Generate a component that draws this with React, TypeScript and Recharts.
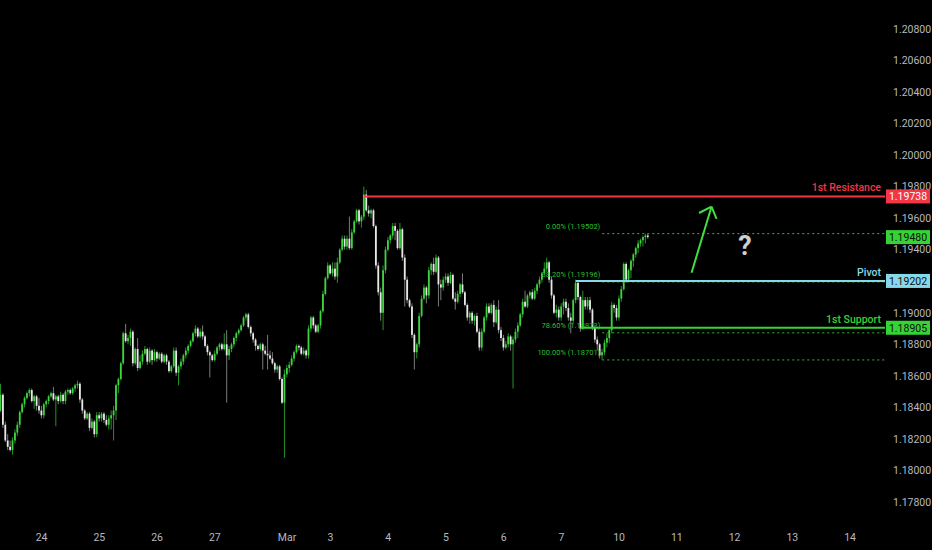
import { Bar, ComposedChart, ReferenceDot, ReferenceLine, XAxis, YAxis } from 'recharts'

type Ohlc = [number, number, number, number] // open, high, low, close

// hourly candles, one list per trading session
const feb21: Ohlc[] = [
  [1.1838, 1.1855, 1.1837, 1.1848], [1.1848, 1.1849, 1.1827, 1.1829], [1.1829, 1.1831, 1.1818, 1.1819],
  [1.1819, 1.1823, 1.1813, 1.1815], [1.1815, 1.1819, 1.1812, 1.1813], [1.1813, 1.1821, 1.181, 1.1819],
  [1.1819, 1.1826, 1.1817, 1.1824], [1.1824, 1.1831, 1.1822, 1.1829], [1.1829, 1.1838, 1.1827, 1.1837],
  [1.1837, 1.1843, 1.1836, 1.1842], [1.1842, 1.1847, 1.184, 1.1846], [1.1846, 1.185, 1.1845, 1.1849],
  [1.1849, 1.1852, 1.1847, 1.1851], [1.1851, 1.1852, 1.1843, 1.1844], [1.1844, 1.1848, 1.1839, 1.1847],
  [1.1847, 1.1848, 1.1838, 1.1841], [1.1841, 1.1846, 1.1836, 1.1838],
]
const feb24: Ohlc[] = [
  [1.1838, 1.1841, 1.1833, 1.1835], [1.1835, 1.1843, 1.1833, 1.1842], [1.1842, 1.1845, 1.184, 1.1844],
  [1.1844, 1.1848, 1.1842, 1.1847], [1.1847, 1.185, 1.1846, 1.1849], [1.1849, 1.1853, 1.1844, 1.1845],
  [1.1845, 1.1848, 1.1828, 1.1847], [1.1847, 1.1848, 1.1842, 1.1844], [1.1844, 1.185, 1.1843, 1.1848],
  [1.1848, 1.1849, 1.1842, 1.1844], [1.1844, 1.1851, 1.1842, 1.185], [1.185, 1.1852, 1.1848, 1.1851],
  [1.1851, 1.1852, 1.1848, 1.1849], [1.1849, 1.1853, 1.1848, 1.1852], [1.1852, 1.1855, 1.185, 1.1854],
  [1.1854, 1.1857, 1.1852, 1.1855], [1.1855, 1.1856, 1.1843, 1.1845], [1.1845, 1.1846, 1.1836, 1.1838],
  [1.1838, 1.1839, 1.1832, 1.1833], [1.1833, 1.1837, 1.1832, 1.1836], [1.1836, 1.1837, 1.1825, 1.1827],
  [1.1827, 1.1833, 1.1826, 1.1831], [1.1831, 1.1832, 1.1821, 1.1823], [1.1823, 1.1837, 1.1821, 1.1835],
]
const feb25: Ohlc[] = [
  [1.1835, 1.1837, 1.1831, 1.1833], [1.1833, 1.1837, 1.1831, 1.1836], [1.1836, 1.1837, 1.183, 1.1832],
  [1.1832, 1.1835, 1.1828, 1.1829], [1.1829, 1.1835, 1.1826, 1.1833], [1.1833, 1.1838, 1.1826, 1.1835],
  [1.1835, 1.1841, 1.1819, 1.1838], [1.1838, 1.1855, 1.1832, 1.1854], [1.1854, 1.1859, 1.1849, 1.1858],
  [1.1858, 1.1869, 1.1857, 1.1868], [1.1868, 1.1888, 1.1867, 1.1887], [1.1887, 1.1893, 1.1881, 1.1882],
  [1.1882, 1.1886, 1.188, 1.1884], [1.1884, 1.189, 1.1879, 1.1888], [1.1888, 1.1889, 1.1866, 1.1868],
  [1.1868, 1.1878, 1.1867, 1.1877], [1.1877, 1.1884, 1.1863, 1.1865], [1.1865, 1.1873, 1.1864, 1.1869],
  [1.1869, 1.1876, 1.1867, 1.1874], [1.1874, 1.1879, 1.1873, 1.1877], [1.1877, 1.1878, 1.1867, 1.1869],
  [1.1869, 1.1878, 1.1868, 1.1876], [1.1876, 1.1877, 1.1867, 1.187], [1.187, 1.1877, 1.1869, 1.1875],
]
const feb26: Ohlc[] = [
  [1.1875, 1.1876, 1.1869, 1.1871], [1.1871, 1.1875, 1.187, 1.1874], [1.1874, 1.1875, 1.1868, 1.1869],
  [1.1869, 1.1874, 1.1868, 1.1873], [1.1873, 1.1874, 1.1867, 1.1869], [1.1869, 1.187, 1.1862, 1.1863],
  [1.1863, 1.1867, 1.1862, 1.1866], [1.1866, 1.1878, 1.1865, 1.1876], [1.1876, 1.1878, 1.186, 1.1862],
  [1.1862, 1.1867, 1.1854, 1.1866], [1.1866, 1.1871, 1.1864, 1.1869], [1.1869, 1.1874, 1.1867, 1.1873],
  [1.1873, 1.1878, 1.1871, 1.1876], [1.1876, 1.188, 1.1874, 1.1879], [1.1879, 1.1883, 1.1878, 1.1882],
  [1.1882, 1.1888, 1.1881, 1.1887], [1.1887, 1.1892, 1.1885, 1.189], [1.189, 1.1891, 1.1884, 1.1885],
  [1.1885, 1.189, 1.1884, 1.1888], [1.1888, 1.1892, 1.1883, 1.1885], [1.1885, 1.1886, 1.1878, 1.1879],
  [1.1879, 1.188, 1.1873, 1.1875], [1.1875, 1.1876, 1.1859, 1.1873], [1.1873, 1.1874, 1.1869, 1.187],
]
const feb27: Ohlc[] = [
  [1.187, 1.1876, 1.1869, 1.1874], [1.1874, 1.1879, 1.1873, 1.1878], [1.1878, 1.1881, 1.1876, 1.188],
  [1.188, 1.1881, 1.1876, 1.1877], [1.1877, 1.1887, 1.1876, 1.188], [1.188, 1.1889, 1.1843, 1.1873],
  [1.1873, 1.1879, 1.187, 1.1877], [1.1877, 1.1881, 1.1875, 1.188], [1.188, 1.1885, 1.1878, 1.1884],
  [1.1884, 1.1888, 1.1882, 1.1887], [1.1887, 1.189, 1.1886, 1.1889], [1.1889, 1.1893, 1.1888, 1.1892],
  [1.1892, 1.1898, 1.1891, 1.1897], [1.1897, 1.19, 1.1895, 1.1899], [1.1899, 1.19, 1.189, 1.1891],
  [1.1891, 1.1892, 1.1885, 1.1887], [1.1887, 1.1888, 1.1881, 1.1883], [1.1883, 1.1884, 1.1876, 1.1879],
  [1.1879, 1.188, 1.1876, 1.1877], [1.1877, 1.1881, 1.1876, 1.188], [1.188, 1.1881, 1.1864, 1.1876],
  [1.1876, 1.1879, 1.1873, 1.1874], [1.1874, 1.1886, 1.1864, 1.1873], [1.1873, 1.1876, 1.187, 1.1871],
]
const feb28: Ohlc[] = [
  [1.1871, 1.1875, 1.1867, 1.1868], [1.1868, 1.1869, 1.1862, 1.1864], [1.1864, 1.1867, 1.1862, 1.1866],
  [1.1866, 1.1867, 1.1857, 1.1858], [1.1858, 1.1859, 1.1842, 1.1843], [1.1843, 1.1864, 1.1808, 1.1861],
  [1.1861, 1.1867, 1.1859, 1.1865], [1.1865, 1.1869, 1.1862, 1.1867], [1.1867, 1.1873, 1.1866, 1.1871],
  [1.1871, 1.1876, 1.1869, 1.1875], [1.1875, 1.188, 1.1874, 1.1879], [1.1879, 1.188, 1.1876, 1.1878],
  [1.1878, 1.1879, 1.1873, 1.1874], [1.1874, 1.1878, 1.1873, 1.1876], [1.1876, 1.1877, 1.1871, 1.1873],
  [1.1873, 1.1892, 1.1871, 1.189], [1.189, 1.1898, 1.1888, 1.1897], [1.1897, 1.1898, 1.189, 1.1892],
  [1.1892, 1.1893, 1.1887, 1.1888], [1.1888, 1.1893, 1.1887, 1.1892], [1.1892, 1.1902, 1.189, 1.1901],
  [1.1901, 1.1914, 1.19, 1.1912], [1.1912, 1.1923, 1.1911, 1.1922], [1.1922, 1.1932, 1.1921, 1.193],
]
const mar3: Ohlc[] = [
  [1.193, 1.1931, 1.1924, 1.1925], [1.1925, 1.1932, 1.1923, 1.1928], [1.1928, 1.1932, 1.1921, 1.1923],
  [1.1923, 1.1935, 1.1919, 1.1932], [1.1932, 1.1941, 1.1931, 1.194], [1.194, 1.1949, 1.1939, 1.1947],
  [1.1947, 1.1949, 1.194, 1.1942], [1.1942, 1.1949, 1.194, 1.1947], [1.1947, 1.1961, 1.194, 1.1941],
  [1.1941, 1.1953, 1.194, 1.1951], [1.1951, 1.1959, 1.195, 1.1958], [1.1958, 1.1966, 1.1957, 1.1965],
  [1.1965, 1.1966, 1.1956, 1.1958], [1.1958, 1.1962, 1.1954, 1.1961], [1.1961, 1.198, 1.1959, 1.1975],
  [1.1975, 1.1978, 1.1964, 1.1965], [1.1965, 1.1968, 1.1961, 1.1963], [1.1963, 1.1966, 1.196, 1.1965],
  [1.1965, 1.1966, 1.1954, 1.1955], [1.1955, 1.1956, 1.1928, 1.193], [1.193, 1.1932, 1.1911, 1.1913],
  [1.1913, 1.1916, 1.1895, 1.19], [1.19, 1.193, 1.1889, 1.1927], [1.1927, 1.1942, 1.1925, 1.194],
]
const mar4: Ohlc[] = [
  [1.194, 1.1948, 1.1939, 1.1946], [1.1946, 1.195, 1.1944, 1.1949], [1.1949, 1.1957, 1.1947, 1.1955],
  [1.1955, 1.1957, 1.1946, 1.1952], [1.1952, 1.1953, 1.194, 1.1941], [1.1941, 1.1957, 1.194, 1.1953],
  [1.1953, 1.1954, 1.1933, 1.1935], [1.1935, 1.1937, 1.1904, 1.1921], [1.1921, 1.1923, 1.1906, 1.1908],
  [1.1908, 1.1909, 1.1903, 1.1904], [1.1904, 1.1906, 1.1884, 1.1886], [1.1886, 1.1887, 1.1864, 1.1875],
  [1.1875, 1.1881, 1.1871, 1.188], [1.188, 1.19, 1.1878, 1.1898], [1.1898, 1.1911, 1.1897, 1.1909],
  [1.1909, 1.1918, 1.1908, 1.1916], [1.1916, 1.1917, 1.1906, 1.1911], [1.1911, 1.1929, 1.1909, 1.1927],
  [1.1927, 1.1932, 1.1924, 1.1931], [1.1931, 1.1935, 1.1924, 1.1926], [1.1926, 1.1937, 1.1925, 1.1935],
  [1.1935, 1.1936, 1.1904, 1.1918], [1.1918, 1.1921, 1.1908, 1.1916], [1.1916, 1.1923, 1.1914, 1.1921],
]
const mar5: Ohlc[] = [
  [1.1921, 1.1925, 1.1919, 1.1923], [1.1923, 1.1925, 1.1917, 1.1919], [1.1919, 1.1926, 1.1918, 1.1924],
  [1.1924, 1.1925, 1.1908, 1.1909], [1.1909, 1.1913, 1.1902, 1.1907], [1.1907, 1.1914, 1.1906, 1.1912],
  [1.1912, 1.1919, 1.191, 1.1918], [1.1918, 1.1925, 1.1912, 1.1913], [1.1913, 1.1914, 1.1904, 1.1905],
  [1.1905, 1.1906, 1.1895, 1.1897], [1.1897, 1.1901, 1.1893, 1.19], [1.19, 1.1901, 1.1893, 1.1895],
  [1.1895, 1.1899, 1.1892, 1.1898], [1.1898, 1.19, 1.1887, 1.1888], [1.1888, 1.189, 1.1876, 1.1878],
  [1.1878, 1.189, 1.1876, 1.1888], [1.1888, 1.1898, 1.1887, 1.1897], [1.1897, 1.1906, 1.1895, 1.1904],
  [1.1904, 1.1906, 1.1899, 1.19], [1.19, 1.1906, 1.1899, 1.1905], [1.1905, 1.1908, 1.1891, 1.1894],
  [1.1894, 1.1904, 1.1893, 1.1902], [1.1902, 1.1908, 1.1887, 1.1889], [1.1889, 1.1891, 1.1882, 1.1884],
]
const mar6: Ohlc[] = [
  [1.1884, 1.1886, 1.1876, 1.1878], [1.1878, 1.1882, 1.1877, 1.188], [1.188, 1.1887, 1.1878, 1.1885],
  [1.1885, 1.1886, 1.1876, 1.188], [1.188, 1.1885, 1.1852, 1.1883], [1.1883, 1.189, 1.1881, 1.1888],
  [1.1888, 1.1894, 1.1884, 1.1892], [1.1892, 1.19, 1.1891, 1.1899], [1.1899, 1.1909, 1.1897, 1.1907],
  [1.1907, 1.1914, 1.1903, 1.1904], [1.1904, 1.1912, 1.1903, 1.1911], [1.1911, 1.1914, 1.1909, 1.1913],
  [1.1913, 1.1915, 1.1908, 1.1909], [1.1909, 1.1916, 1.1908, 1.1914], [1.1914, 1.1919, 1.1912, 1.1918],
  [1.1918, 1.1923, 1.1916, 1.1921], [1.1921, 1.1926, 1.1919, 1.1925], [1.1925, 1.1932, 1.1924, 1.1928],
  [1.1928, 1.1935, 1.1926, 1.1932], [1.1932, 1.1933, 1.1919, 1.1921], [1.1921, 1.1923, 1.1909, 1.1911],
  [1.1911, 1.1912, 1.1899, 1.19], [1.19, 1.1905, 1.1897, 1.1902], [1.1902, 1.1904, 1.1895, 1.1897],
]
const mar7: Ohlc[] = [
  [1.1897, 1.1906, 1.1895, 1.1904], [1.1904, 1.1909, 1.1899, 1.1907], [1.1907, 1.1909, 1.1901, 1.1903],
  [1.1903, 1.1906, 1.1895, 1.1897], [1.1897, 1.19, 1.1887, 1.1895], [1.1895, 1.1909, 1.1893, 1.1908],
  [1.1908, 1.1921, 1.1906, 1.1919], [1.1919, 1.192, 1.1908, 1.191], [1.191, 1.1911, 1.1888, 1.189],
  [1.189, 1.1914, 1.1889, 1.1908], [1.1908, 1.191, 1.1902, 1.1904], [1.1904, 1.191, 1.1902, 1.1908],
  [1.1908, 1.191, 1.19, 1.1902], [1.1902, 1.1903, 1.1889, 1.1891], [1.1891, 1.1892, 1.1881, 1.1883],
  [1.1883, 1.1885, 1.1876, 1.188], [1.188, 1.1881, 1.1871, 1.1873], [1.1873, 1.1877, 1.18701, 1.1875],
  [1.1875, 1.1883, 1.1873, 1.1881], [1.1881, 1.1887, 1.1878, 1.1884], [1.1884, 1.189, 1.1881, 1.1889],
  [1.1889, 1.1907, 1.1887, 1.1905], [1.1905, 1.1906, 1.19, 1.1903], [1.1903, 1.1905, 1.1895, 1.1897],
]
const mar10: Ohlc[] = [
  [1.1897, 1.1911, 1.1895, 1.1909], [1.1909, 1.1917, 1.1907, 1.1915], [1.1915, 1.1932, 1.1914, 1.1931],
  [1.1931, 1.1932, 1.1919, 1.1921], [1.1921, 1.1928, 1.192, 1.1927], [1.1927, 1.1934, 1.1922, 1.1933],
  [1.1933, 1.1938, 1.1929, 1.1937], [1.1937, 1.1942, 1.1935, 1.1941], [1.1941, 1.1946, 1.1938, 1.1944],
  [1.1944, 1.1947, 1.1942, 1.1946], [1.1946, 1.1949, 1.1942, 1.1948], [1.1948, 1.19502, 1.1944, 1.1949],
  [1.1949, 1.195, 1.1947, 1.1948],
]
const sessions = [feb21, feb24, feb25, feb26, feb27, feb28, mar3, mar4, mar5, mar6, mar7, mar10]

// time axis: bar index of each labelled day
const dayTicks = [17, 41, 65, 89, 119, 137, 161, 185, 209, 233, 257, 281, 305, 329, 353]
const dayLabels = ['24', '25', '26', '27', 'Mar', '3', '4', '5', '6', '7', '10', '11', '12', '13', '14']
// 1.19200 sits under the pivot tag in the original, so it is not printed
const priceTicks = [
  1.178, 1.18, 1.182, 1.184, 1.186, 1.188, 1.19, 1.194, 1.196, 1.198, 1.2, 1.202, 1.204, 1.206, 1.208,
]

// key levels and the bar each line is drawn from
const resistance = 1.19738
const pivot = 1.19202
const support = 1.18905
const resistanceFrom = 151
const pivotFrom = 239
const supportFrom = 241

// fibonacci retracement of the last swing
const fibRatios = ['0.00%', '38.20%', '78.60%', '100.00%']
const fibPrices = [1.19502, 1.19196, 1.18873, 1.18701]
const fibFrom = 250

// projected move annotation (bar index, price)
const arrowTail = { x: 287.1, y: 1.19254 }
const arrowTip = { x: 295.4, y: 1.19673 }
const arrowWingL = { x: 290.2, y: 1.19633 }
const arrowWingR = { x: 297.5, y: 1.19595 }
const questionAt = { x: 309.3, y: 1.19427 }

const X_MIN = -0.29
const X_MAX = 367.5
const Y_MIN = 1.17654
const Y_MAX = 1.20984

const FONT = 'Roboto, "Liberation Sans", sans-serif'
const AXIS_TEXT = '#b6b9c0'
const UP = '#3fd43f'
const UP_WICK = '#2fb82f'
const DOWN = '#e8e8e8'
const DOWN_WICK = '#9a9a9a'
const RED = '#f23645'
const CYAN = '#86d9e8'
const GREEN = '#35d435'
const FIB = '#2cbf2c'
const ARROW = '#3fe03f'

const candles = sessions.flat().map(([o, h, l, c], i) => ({ i, o, h, l, c, range: [l, h] }))
const lastClose = candles[candles.length - 1].c

function Candle(props: any) {
  const { x, y, width, height, payload } = props
  if (!payload) return null
  const { o, h, l, c } = payload
  const top = Math.min(y, y + height)
  const span = Math.abs(height)
  const perUnit = h > l ? span / (h - l) : 0
  const at = (v: number) => top + (h - v) * perUnit
  const up = c >= o
  const mid = x + width / 2
  const bodyTop = at(Math.max(o, c))
  const bodyH = Math.max(1, at(Math.min(o, c)) - bodyTop)
  return (
    <g>
      <line x1={mid} x2={mid} y1={top} y2={top + span} stroke={up ? UP_WICK : DOWN_WICK} strokeWidth={0.8} />
      <rect x={mid - 0.9} y={bodyTop} width={1.8} height={bodyH} fill={up ? UP : DOWN} />
    </g>
  )
}

const priceTag = (price: number, fill: string, ink: string, title?: string, titleColor?: string) =>
  function Tag(props: any) {
    const { x, y, width } = props.viewBox
    const right = x + width
    return (
      <g fontFamily={FONT}>
        {title && (
          <text x={right - 4} y={y - 5} textAnchor="end" fill={titleColor} fontSize={10.5} fontWeight={500}>
            {title}
          </text>
        )}
        <rect x={right + 1} y={y - 7} width={44} height={14} fill={fill} />
        <text x={right + 23} y={y} dy="0.36em" textAnchor="middle" fill={ink} fontSize={10.5}>
          {price.toFixed(5)}
        </text>
      </g>
    )
  }

const fibLabel = (text: string) =>
  function FibText(props: any) {
    const { x, y } = props.viewBox
    return (
      <text x={x - 2} y={y - 5} textAnchor="end" fill={FIB} fontSize={7.5} fontFamily={FONT}>
        {text}
      </text>
    )
  }

function Question(props: any) {
  const { x, y } = props.viewBox
  return (
    <text x={x} y={y} dy="0.36em" textAnchor="middle" fill="#cfcfcf" fontSize={27} fontWeight={700} fontFamily={FONT}>
      ?
    </text>
  )
}

// both layers share one plot area, so the axes are set up the same way
function Axes({ showTicks }: { showTicks: boolean }) {
  const tick = showTicks ? { fill: AXIS_TEXT, fontSize: 10.5, fontFamily: FONT } : false
  return [
    <XAxis
      key="x"
      dataKey="i"
      type="number"
      domain={[X_MIN, X_MAX]}
      allowDataOverflow
      ticks={dayTicks}
      interval={0}
      tickFormatter={(v: number) => dayLabels[dayTicks.indexOf(v)] ?? ''}
      axisLine={false}
      tickLine={false}
      tickSize={0}
      tickMargin={9}
      height={25}
      tick={tick}
    />,
    <YAxis
      key="y"
      orientation="right"
      type="number"
      domain={[Y_MIN, Y_MAX]}
      allowDataOverflow
      ticks={priceTicks}
      interval={0}
      tickFormatter={(v: number) => v.toFixed(5)}
      axisLine={false}
      tickLine={false}
      tickSize={0}
      tickMargin={8}
      width={47}
      tick={tick}
    />,
  ]
}

const layer = { position: 'absolute' as const, left: 0, top: 0 }

export default function App() {
  return (
    <div style={{ position: 'absolute', left: 0, top: 0, width: 932, height: 550, background: '#000' }}>
      <div style={layer}>
        <ComposedChart width={932} height={550} data={candles} margin={{ top: 0, right: 0, bottom: 0, left: 0 }}>
          {Axes({ showTicks: true })}
          {fibPrices.map((p, k) => (
            <ReferenceLine
              key={fibRatios[k]}
              segment={[{ x: fibFrom, y: p }, { x: X_MAX, y: p }]}
              stroke={FIB}
              strokeWidth={1}
              strokeDasharray="2 3"
              label={fibLabel(`${fibRatios[k]} (${p.toFixed(5)})`)}
            />
          ))}
          <Bar dataKey="range" shape={Candle} barSize={2} isAnimationActive={false} />
        </ComposedChart>
      </div>
      <div style={layer}>
        <ComposedChart width={932} height={550} data={candles} margin={{ top: 0, right: 0, bottom: 0, left: 0 }}>
          {Axes({ showTicks: false })}
          <ReferenceLine
            segment={[{ x: resistanceFrom, y: resistance }, { x: X_MAX, y: resistance }]}
            stroke={RED}
            strokeWidth={2}
            label={priceTag(resistance, RED, '#ffffff', '1st Resistance', RED)}
          />
          <ReferenceLine
            segment={[{ x: pivotFrom, y: pivot }, { x: X_MAX, y: pivot }]}
            stroke={CYAN}
            strokeWidth={2}
            label={priceTag(pivot, CYAN, '#101010', 'Pivot', CYAN)}
          />
          <ReferenceLine
            segment={[{ x: supportFrom, y: support }, { x: X_MAX, y: support }]}
            stroke={GREEN}
            strokeWidth={2}
            label={priceTag(support, GREEN, '#101010', '1st Support', GREEN)}
          />
          <ReferenceLine y={lastClose} stroke="none" label={priceTag(lastClose, GREEN, '#101010')} />
          <ReferenceLine segment={[arrowTail, arrowTip]} stroke={ARROW} strokeWidth={2} />
          <ReferenceLine segment={[arrowWingL, arrowTip]} stroke={ARROW} strokeWidth={2} />
          <ReferenceLine segment={[arrowWingR, arrowTip]} stroke={ARROW} strokeWidth={2} />
          <ReferenceDot x={questionAt.x} y={questionAt.y} r={0} stroke="none" label={Question} />
        </ComposedChart>
      </div>
    </div>
  )
}
